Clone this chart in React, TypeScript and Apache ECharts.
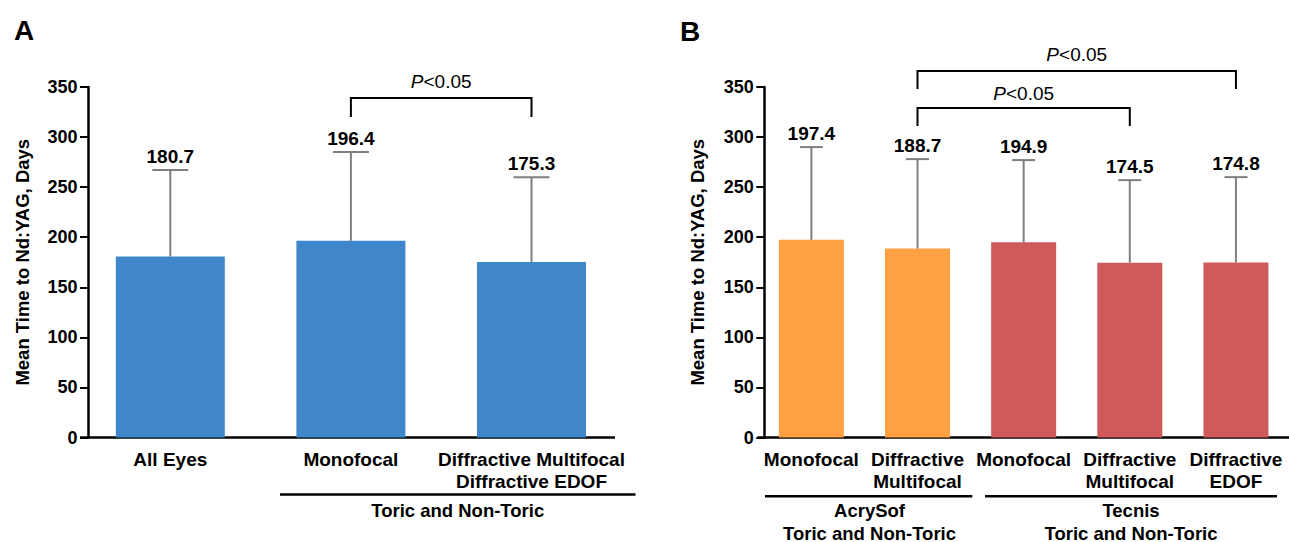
import React, { useEffect, useRef } from "react";
import * as echarts from "echarts";

// ---------- data ----------
const categoriesA = ["All Eyes", "Monofocal", "Diffractive Multifocal\nDiffractive EDOF"];
const meansA = [180.7, 196.4, 175.3];
const upperA = [267, 285, 260];

const categoriesB = ["Monofocal", "Diffractive\nMultifocal", "Monofocal", "Diffractive\nMultifocal", "Diffractive\nEDOF"];
const meansB = [197.4, 188.7, 194.9, 174.5, 174.8];
const upperB = [290, 278, 277, 257, 260];
const brandB = ["AcrySof", "AcrySof", "Tecnis", "Tecnis", "Tecnis"];

const yMin = 0;
const yMax = 350;
const yInterval = 50;

// brackets: [fromIndex, toIndex, topValue, dropValue, textValue]
const bracketsA = [[1, 2, 339, 320, 355]];
const bracketsB = [
  [1, 4, 366, 348, 382],
  [1, 3, 329, 311, 344],
];
const pLabel = "<0.05";

const groupA = ["Toric and Non-Toric"];
const groupB = ["AcrySof\nToric and Non-Toric", "Tecnis\nToric and Non-Toric"];

const yName = "Mean Time to Nd:YAG, Days";

// ---------- styles ----------
const FONT = '"Liberation Sans", Arial, Helvetica, sans-serif';
const BLUE = "#3F87CA";
const ORANGE = "#FFA042";
const RED = "#CF5A5A";
const brandColor: Record<string, string> = { AcrySof: ORANGE, Tecnis: RED };

function yAxisCfg(gridIndex: number, offset: number, nameGap: number) {
  return {
    type: "value",
    gridIndex,
    min: yMin,
    max: yMax,
    interval: yInterval,
    offset,
    name: yName,
    nameLocation: "middle",
    nameGap,
    nameTextStyle: { fontFamily: FONT, fontWeight: "bold", fontSize: 18.5, color: "#000" },
    axisLine: { show: true, lineStyle: { color: "#000", width: 2.5 } },
    axisTick: { show: true, length: 8, lineStyle: { color: "#000", width: 2 } },
    axisLabel: { fontFamily: FONT, fontWeight: "bold", fontSize: 18, color: "#000", margin: 10.5 },
    splitLine: { show: false },
  };
}

function xAxisCfg(gridIndex: number, cats: string[], showLine: boolean) {
  return {
    type: "category",
    gridIndex,
    data: cats,
    axisLine: { show: showLine, lineStyle: { color: "#000", width: 2.5 } },
    axisTick: { show: false },
    axisLabel: {
      interval: 0,
      fontFamily: FONT,
      fontWeight: "bold",
      fontSize: 19,
      lineHeight: 22,
      color: "#000",
      margin: 11,
    },
  };
}

function errorSeries(means: number[], uppers: number[], idx: number, capHalf: number) {
  return {
    type: "custom",
    xAxisIndex: idx,
    yAxisIndex: idx,
    clip: false,
    z: 5,
    encode: { x: 0, y: 2 },
    data: means.map((m, i) => [i, m, uppers[i]]),
    renderItem: (_p: any, api: any) => {
      const i = api.value(0);
      const m = api.value(1);
      const base = api.coord([i, m]);
      const top = api.coord([i, api.value(2)]);
      const stroke = { stroke: "#7f7f7f", lineWidth: 2 };
      return {
        type: "group",
        children: [
          { type: "line", shape: { x1: base[0], y1: base[1], x2: top[0], y2: top[1] }, style: stroke },
          { type: "line", shape: { x1: top[0] - capHalf, y1: top[1], x2: top[0] + capHalf, y2: top[1] }, style: stroke },
          {
            type: "text",
            x: top[0],
            y: top[1] - 13.5,
            style: {
              text: m.toFixed(1),
              align: "center",
              verticalAlign: "middle",
              fontFamily: FONT,
              fontWeight: "bold",
              fontSize: 19,
              fill: "#000",
            },
          },
        ],
      };
    },
  };
}

function bracketSeries(brackets: number[][], idx: number) {
  return {
    type: "custom",
    xAxisIndex: idx,
    yAxisIndex: idx,
    clip: false,
    z: 5,
    encode: { x: 0, y: 2 },
    data: brackets,
    renderItem: (_p: any, api: any) => {
      const a = api.value(0);
      const b = api.value(1);
      const p1 = api.coord([a, api.value(2)]);
      const p2 = api.coord([b, api.value(2)]);
      const d1 = api.coord([a, api.value(3)]);
      const d2 = api.coord([b, api.value(3)]);
      const t = api.coord([a, api.value(4)]);
      return {
        type: "group",
        children: [
          {
            type: "polyline",
            shape: { points: [d1, p1, p2, d2] },
            style: { stroke: "#000", lineWidth: 2, fill: null },
          },
          {
            type: "text",
            x: (p1[0] + p2[0]) / 2,
            y: t[1],
            style: {
              text: "{i|P}" + pLabel,
              align: "center",
              verticalAlign: "middle",
              fontFamily: FONT,
              fontSize: 19,
              fill: "#000",
              rich: { i: { fontStyle: "italic", fontFamily: FONT, fontSize: 19, fill: "#000" } },
            },
          },
        ],
      };
    },
  };
}

function groupText(text: string, x: number, y: number) {
  return {
    type: "text",
    x,
    y,
    style: {
      text,
      align: "center",
      verticalAlign: "middle",
      fontFamily: FONT,
      fontWeight: "bold",
      fontSize: 18.5,
      lineHeight: 23,
      fill: "#000",
    },
  };
}

function hLine(x1: number, x2: number, y: number) {
  return { type: "line", shape: { x1, y1: y, x2, y2: y }, style: { stroke: "#000", lineWidth: 2.5 } };
}

export default function App() {
  const ref = useRef<HTMLDivElement>(null);
  useEffect(() => {
    if (!ref.current) return;
    const chart = echarts.init(ref.current, null, { renderer: "svg" });
    chart.setOption({
      animation: false,
      backgroundColor: "#fff",
      grid: [
        { left: 80, top: 87, width: 541.8, height: 350.5 },
        { left: 758.3, top: 87, width: 535, height: 350.5 },
      ],
      xAxis: [xAxisCfg(0, categoriesA, false), xAxisCfg(1, categoriesB, true)],
      yAxis: [yAxisCfg(0, -8, 56), yAxisCfg(1, -6, 57)],
      series: [
        {
          type: "bar",
          xAxisIndex: 0,
          yAxisIndex: 0,
          barWidth: 109,
          data: meansA,
          itemStyle: { color: BLUE },
        },
        {
          type: "bar",
          xAxisIndex: 1,
          yAxisIndex: 1,
          barWidth: 65,
          data: meansB.map((v, i) => ({ value: v, itemStyle: { color: brandColor[brandB[i]] } })),
        },
        errorSeries(meansA, upperA, 0, 18),
        errorSeries(meansB, upperB, 1, 11.5),
        bracketSeries(bracketsA, 0),
        bracketSeries(bracketsB, 1),
      ],
      graphic: [
        {
          type: "text",
          x: 24,
          y: 30,
          style: { text: "A", align: "center", verticalAlign: "middle", fontFamily: FONT, fontWeight: "bold", fontSize: 28, fill: "#000" },
        },
        {
          type: "text",
          x: 690,
          y: 31,
          style: { text: "B", align: "center", verticalAlign: "middle", fontFamily: FONT, fontWeight: "bold", fontSize: 28, fill: "#000" },
        },
        hLine(80, 615, 437.5),
        hLine(280, 635.5, 494.5),
        groupText(groupA[0], 457.7, 510.7),
        hLine(765, 972.3, 496.3),
        groupText(groupB[0], 869.5, 521.5),
        hLine(985, 1277, 496.3),
        groupText(groupB[1], 1131, 521.5),
      ],
    });
    return () => chart.dispose();
  }, []);
  return (
    <div
      ref={ref}
      style={{ position: "fixed", left: 0, top: 0, width: 1289, height: 542, background: "#fff" }}
    />
  );
}
